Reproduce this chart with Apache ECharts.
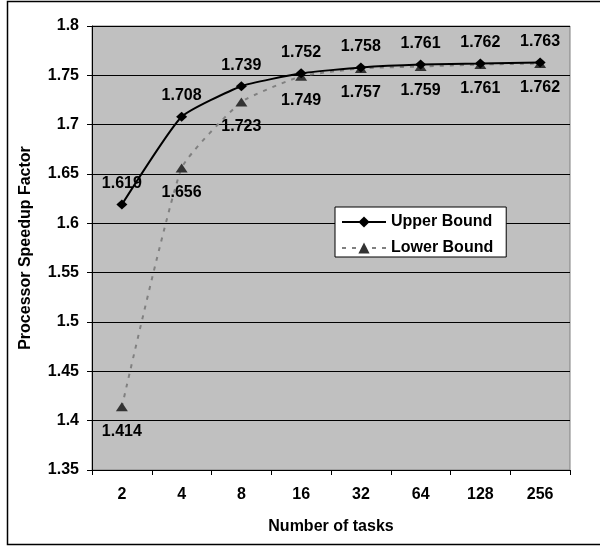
<!DOCTYPE html>
<html>
<head>
<meta charset="utf-8">
<script src="https://cdn.jsdelivr.net/npm/echarts@6/dist/echarts.min.js"></script>
<style>html,body{margin:0;padding:0;background:#fff}#c{width:600px;height:546px}</style>
</head>
<body>
<div id="c"></div>
<script>
const categories = ['2','4','8','16','32','64','128','256'];
const upperBound = [1.619, 1.708, 1.739, 1.752, 1.758, 1.761, 1.762, 1.763];
const lowerBound = [1.414, 1.656, 1.723, 1.749, 1.757, 1.759, 1.761, 1.762];
const yTicks = {min: 1.35, max: 1.8, interval: 0.05};

const F = 'Liberation Sans, Arial, sans-serif';
const FS = 16;
const chart = echarts.init(document.getElementById('c'), null, {renderer: 'canvas'});
chart.setOption({
  animation: false,
  backgroundColor: '#ffffff',
  graphic: [{
    type: 'rect', shape: {x: 7.5, y: 1.5, width: 600, height: 543},
    style: {fill: 'none', stroke: '#000', lineWidth: 1.5}, z: -1, silent: true
  }],
  grid: {left: 92, right: 30, top: 26, bottom: 76, show: true,
    backgroundColor: '#c0c0c0', borderColor: '#808080', borderWidth: 1},
  legend: {
    orient: 'vertical', left: 335, top: 207,
    backgroundColor: '#ffffff', borderColor: '#000', borderWidth: 1,
    borderRadius: 0, padding: [7, 13, 1, 6],
    itemWidth: 44, itemHeight: 14, itemGap: 10,
    textStyle: {fontFamily: F, fontWeight: 'bold', fontSize: FS, lineHeight: 16, color: '#000'},
    data: ['Upper Bound', 'Lower Bound']
  },
  xAxis: {
    type: 'category', data: categories, boundaryGap: true,
    name: 'Number of tasks', nameLocation: 'middle', nameGap: 49,
    nameTextStyle: {fontFamily: F, fontWeight: 'bold', fontSize: FS, color: '#000'},
    axisLine: {lineStyle: {color: '#000', width: 1}},
    axisTick: {show: true, length: 5, lineStyle: {color: '#000'}, alignWithLabel: false},
    axisLabel: {fontFamily: F, fontWeight: 'bold', fontSize: FS, color: '#000', margin: 17},
    splitLine: {show: false}
  },
  yAxis: {
    type: 'value', min: yTicks.min, max: yTicks.max, interval: yTicks.interval,
    name: 'Processor Speedup Factor', nameLocation: 'middle', nameGap: 58,
    nameTextStyle: {fontFamily: F, fontWeight: 'bold', fontSize: FS, color: '#000'},
    axisLine: {show: true, lineStyle: {color: '#000', width: 1}},
    axisTick: {show: true, length: 5, lineStyle: {color: '#000'}},
    axisLabel: {fontFamily: F, fontWeight: 'bold', fontSize: FS, color: '#000', margin: 13,
      formatter: v => String(parseFloat(v.toFixed(2)))},
    splitLine: {show: true, lineStyle: {color: '#000', width: 1}}
  },
  series: [
    {
      name: 'Upper Bound', type: 'line', data: upperBound, smooth: 0.15,
      symbol: 'diamond', symbolSize: [11, 10],
      itemStyle: {color: '#000'},
      lineStyle: {color: '#000', width: 2},
      label: {show: true, position: 'top', distance: 8, fontFamily: F, fontWeight: 'bold', fontSize: FS, color: '#000',
        formatter: p => p.value.toFixed(3)},
      z: 3
    },
    {
      name: 'Lower Bound', type: 'line', data: lowerBound, smooth: 0.15,
      symbol: 'triangle', symbolSize: [12, 9],
      itemStyle: {color: '#333333'},
      lineStyle: {color: '#808080', width: 2, type: [4, 6]},
      label: {show: true, position: 'bottom', distance: 12, fontFamily: F, fontWeight: 'bold', fontSize: FS, color: '#000',
        formatter: p => p.value.toFixed(3)},
      z: 2
    }
  ]
});
</script>
</body>
</html>
